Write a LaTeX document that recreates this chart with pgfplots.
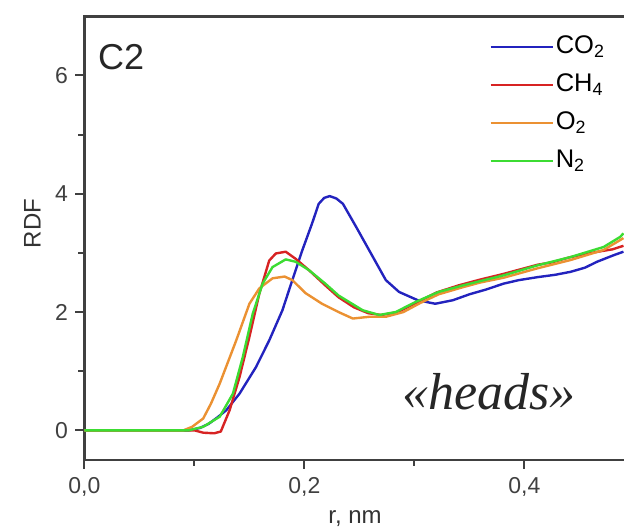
\documentclass[border=0pt]{standalone}
\usepackage{fontspec}
\setmainfont{Liberation Sans}
\newfontfamily\serifit{Liberation Serif}
\usepackage{pgfplots}
\pgfplotsset{compat=1.18}
\definecolor{cco}{RGB}{35,35,190}
\definecolor{cch}{RGB}{215,35,35}
\definecolor{coo}{RGB}{235,145,50}
\definecolor{cnn}{RGB}{60,220,50}
\begin{document}
\begin{tikzpicture}
\begin{axis}[
 name=main,
 at={(0pt,0pt)}, anchor=south west,
 scale only axis, width=539.6pt, height=443.6pt,
 xmin=0, xmax=0.4905, ymin=-0.5, ymax=7,
 axis x line*=bottom, axis y line*=left,
 axis line style={line width=2.5pt, color=black!75},
 xtick={0,0.2,0.4}, xticklabels={{0,0},{0,2},{0,4}},
 minor xtick={0.1,0.3},
 ytick={0,2,4,6}, yticklabels={0,2,4,6},
 minor ytick={1,3,5},
 xtick align=outside, ytick align=outside,
 major tick length=9pt, minor tick length=6pt,
 xtick style={line width=2pt, color=black!75},
 ytick style={line width=2pt, color=black!75},
 minor tick style={line width=2pt, color=black!75},
 tick label style={font=\fontsize{23}{27}\selectfont, color=black!75},
 xticklabel style={yshift=-5pt},
 yticklabel style={xshift=-4pt},
 label style={font=\fontsize{24}{28}\selectfont, color=black!80},
 xlabel={r, nm}, ylabel={RDF},
 xlabel style={at={(axis description cs:0.5015,0)}, anchor=base, yshift=-64pt},
 ylabel style={at={(axis description cs:-0.0964,0.533)}, anchor=center},
 legend style={at={(axis description cs:0.75,0.962)}, anchor=north west, draw=none, fill=none,
   font=\fontsize{25.5}{29}\selectfont, row sep=11pt, inner sep=0pt,
   nodes={inner sep=2pt, text depth=5pt, text height=18pt}},
 legend image code/.code={\draw[#1, line width=2.5pt] (0pt,0pt) -- (62pt,0pt);},
 legend cell align=left,
 every axis plot/.append style={line width=2.4pt, line join=round},
]
\addplot[cco] coordinates {
(0,0) (0.095,0) (0.105,0.04) (0.113,0.11) (0.121,0.22) (0.129,0.34) (0.141,0.62)
(0.156,1.07) (0.168,1.52) (0.180,2.03) (0.189,2.54) (0.198,3.04) (0.207,3.50)
(0.213,3.83) (0.218,3.93) (0.223,3.96) (0.229,3.92) (0.235,3.83) (0.247,3.44)
(0.259,3.04) (0.274,2.54) (0.286,2.34) (0.303,2.20) (0.319,2.14) (0.335,2.20)
(0.350,2.30) (0.365,2.38) (0.381,2.48) (0.395,2.54) (0.412,2.59) (0.428,2.63)
(0.442,2.68) (0.455,2.75) (0.466,2.85) (0.481,2.96) (0.490,3.02)};
\addlegendentry{CO\textsubscript{2}}
\addplot[cch] coordinates {
(0,0) (0.100,0) (0.108,-0.04) (0.118,-0.05) (0.124,-0.02) (0.132,0.34) (0.141,0.90)
(0.150,1.58) (0.159,2.31) (0.168,2.87) (0.174,2.99) (0.183,3.02) (0.192,2.90)
(0.204,2.71) (0.219,2.45) (0.231,2.25) (0.245,2.08) (0.258,1.98) (0.270,1.95)
(0.285,2.00) (0.300,2.14) (0.320,2.33) (0.340,2.45) (0.360,2.55) (0.380,2.64)
(0.400,2.74) (0.412,2.80) (0.425,2.84) (0.440,2.92) (0.455,2.98) (0.470,3.03)
(0.480,3.06) (0.490,3.12)};
\addlegendentry{CH\textsubscript{4}}
\addplot[coo] coordinates {
(0,0) (0.090,0) (0.098,0.06) (0.108,0.20) (0.115,0.45) (0.123,0.79) (0.138,1.52)
(0.150,2.14) (0.159,2.40) (0.171,2.57) (0.182,2.60) (0.189,2.54) (0.201,2.32)
(0.216,2.14) (0.231,2.00) (0.244,1.89) (0.259,1.92) (0.274,1.92) (0.290,2.00)
(0.305,2.15) (0.322,2.30) (0.344,2.42) (0.360,2.50) (0.381,2.58) (0.412,2.74)
(0.442,2.88) (0.472,3.05) (0.490,3.25)};
\addlegendentry{O\textsubscript{2}}
\addplot[cnn] coordinates {
(0,0) (0.095,0) (0.108,0.06) (0.123,0.23) (0.135,0.62) (0.144,1.24) (0.153,1.97)
(0.162,2.48) (0.171,2.76) (0.183,2.89) (0.192,2.85) (0.204,2.71) (0.219,2.48)
(0.231,2.28) (0.238,2.20) (0.253,2.03) (0.268,1.95) (0.283,2.00) (0.301,2.17)
(0.322,2.34) (0.344,2.45) (0.359,2.52) (0.381,2.62) (0.412,2.79) (0.442,2.93)
(0.472,3.10) (0.487,3.27) (0.490,3.33)};
\addlegendentry{N\textsubscript{2}}
\node[font=\fontsize{36}{40}\selectfont, anchor=base west, inner sep=0pt, color=black!85] at (axis cs:0.0124,6.10) {C2};
\node[font=\serifit\itshape\fontsize{52}{56}\selectfont, anchor=base, inner sep=0pt, color=black!85] at (axis cs:0.368,0.345) {«heads»};
\end{axis}
\draw[line width=2.5pt, black!75, line cap=rect] (main.north west) -- (main.north east);
\pgfresetboundingbox
\path[use as bounding box] (-84.4pt,-71.1pt) rectangle (539.6pt,459.9pt);
\end{tikzpicture}
\end{document}
